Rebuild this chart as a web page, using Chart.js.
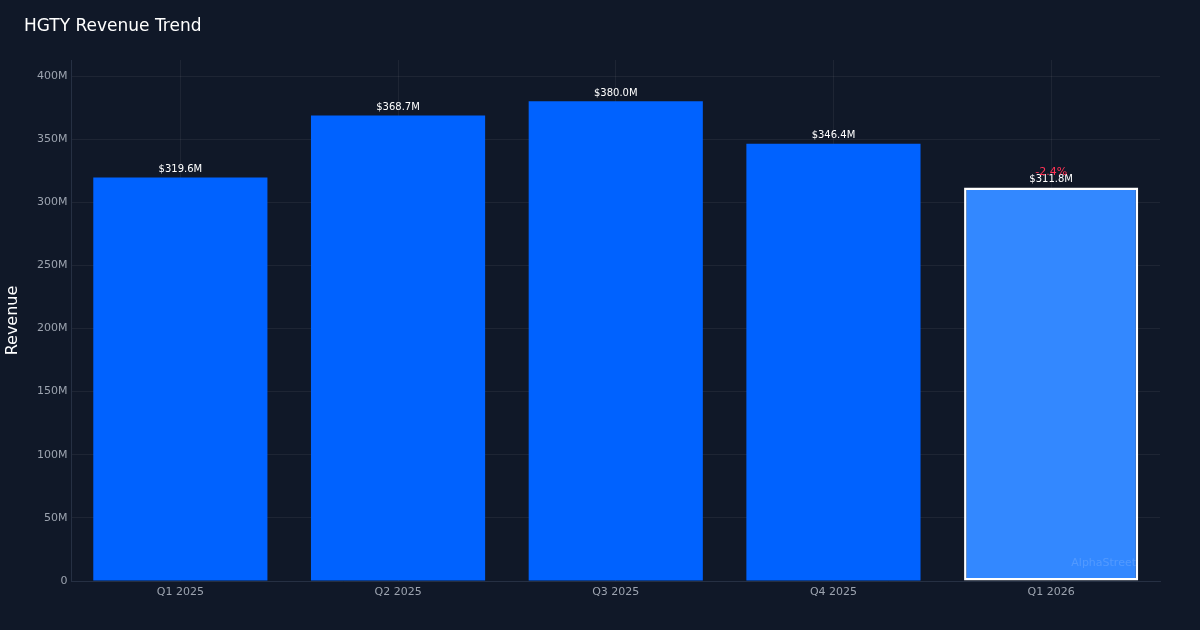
<!DOCTYPE html>
<html>
<head>
<meta charset="utf-8">
<script src="https://cdn.jsdelivr.net/npm/chart.js@4.4.1/dist/chart.umd.min.js"></script>
<style>
  html, body { margin: 0; padding: 0; background: #101828; }
  #wrap { width: 1200px; height: 630px; }
</style>
</head>
<body>
<div id="wrap"><canvas id="myChart" width="1200" height="630"></canvas></div>
<script>
// data
const quarters = ['Q1 2025', 'Q2 2025', 'Q3 2025', 'Q4 2025', 'Q1 2026'];
const revenue = [319.6, 368.7, 380.0, 346.4, 311.8]; // in millions
const growthLabel = '-2.4%';
const yTicks = [0, 50, 100, 150, 200, 250, 300, 350, 400];

const barColors = ['#0062ff', '#0062ff', '#0062ff', '#0062ff', '#3388ff'];
const borderColors = ['#0062ff', '#0062ff', '#0062ff', '#0062ff', '#ffffff'];
const borderWidths = [0, 0, 0, 0, 2.5];

const FONT = "'DejaVu Sans', sans-serif";

// title, value labels and watermark
const extras = {
  id: 'extras',
  beforeDraw(chart) {
    const ctx = chart.ctx;
    ctx.save();
    ctx.fillStyle = '#101828';
    ctx.fillRect(0, 0, chart.width, chart.height);
    ctx.restore();
  },
  afterDatasetsDraw(chart) {
    const ctx = chart.ctx;
    const meta = chart.getDatasetMeta(0);
    ctx.save();
    ctx.font = '10px ' + FONT;
    ctx.textAlign = 'center';
    ctx.textBaseline = 'middle';
    ctx.fillStyle = '#ffffff';
    meta.data.forEach((bar, i) => {
      ctx.fillText('$' + revenue[i].toFixed(1) + 'M', bar.x, bar.y - 8);
    });
    const last = meta.data[meta.data.length - 1];
    ctx.font = '11px ' + FONT;
    ctx.fillStyle = '#ff3355';
    ctx.fillText(growthLabel, last.x, last.y - 15);

    // watermark
    const area = chart.chartArea;
    ctx.font = '11px ' + FONT;
    ctx.textAlign = 'right';
    ctx.fillStyle = 'rgba(255,255,255,0.15)';
    ctx.fillText('AlphaStreet', area.right - 24, area.bottom - 18);

    // title
    ctx.font = '17px ' + FONT;
    ctx.textAlign = 'left';
    ctx.fillStyle = '#ffffff';
    ctx.fillText('HGTY Revenue Trend', 24, 26.5);
    ctx.restore();
  }
};

const data = {
  labels: quarters,
  datasets: [{
    label: 'Revenue',
    data: revenue,
    backgroundColor: barColors,
    borderColor: borderColors,
    borderWidth: borderWidths,
    borderSkipped: false,
    barPercentage: 0.8,
    categoryPercentage: 1.0
  }]
};

const config = {
  type: 'bar',
  data,
  options: {
    responsive: false,
    animation: false,
    layout: { padding: { left: 0, right: 40, top: 60, bottom: 0 } },
    plugins: {
      legend: { display: false },
      title: { display: false },
      tooltip: { enabled: false }
    },
    scales: {
      x: {
        offset: true,
        grid: { color: 'rgba(255,255,255,0.06)', offset: false, drawTicks: false },
        border: { color: '#263043' },
        ticks: { color: '#9ca3af', font: { family: FONT, size: 11 }, padding: 5 },
        afterFit(scale) { scale.height = 49; }
      },
      y: {
        min: 0,
        max: 412.7,
        afterBuildTicks(scale) { scale.ticks = yTicks.map(v => ({ value: v })); },
        grid: { color: 'rgba(255,255,255,0.06)', drawTicks: false },
        border: { color: '#263043' },
        ticks: {
          color: '#9ca3af',
          font: { family: FONT, size: 11 },
          padding: 4,
          callback: v => v === 0 ? '0' : v + 'M'
        },
        title: {
          display: true,
          text: 'Revenue',
          color: '#ffffff',
          font: { family: FONT, size: 16 },
          padding: { top: 3, bottom: 0 }
        },
        afterFit(scale) { scale.width = 71.5; }
      }
    }
  },
  plugins: [extras]
};

const myChart = new Chart(document.getElementById('myChart'), config);
</script>
</body>
</html>
